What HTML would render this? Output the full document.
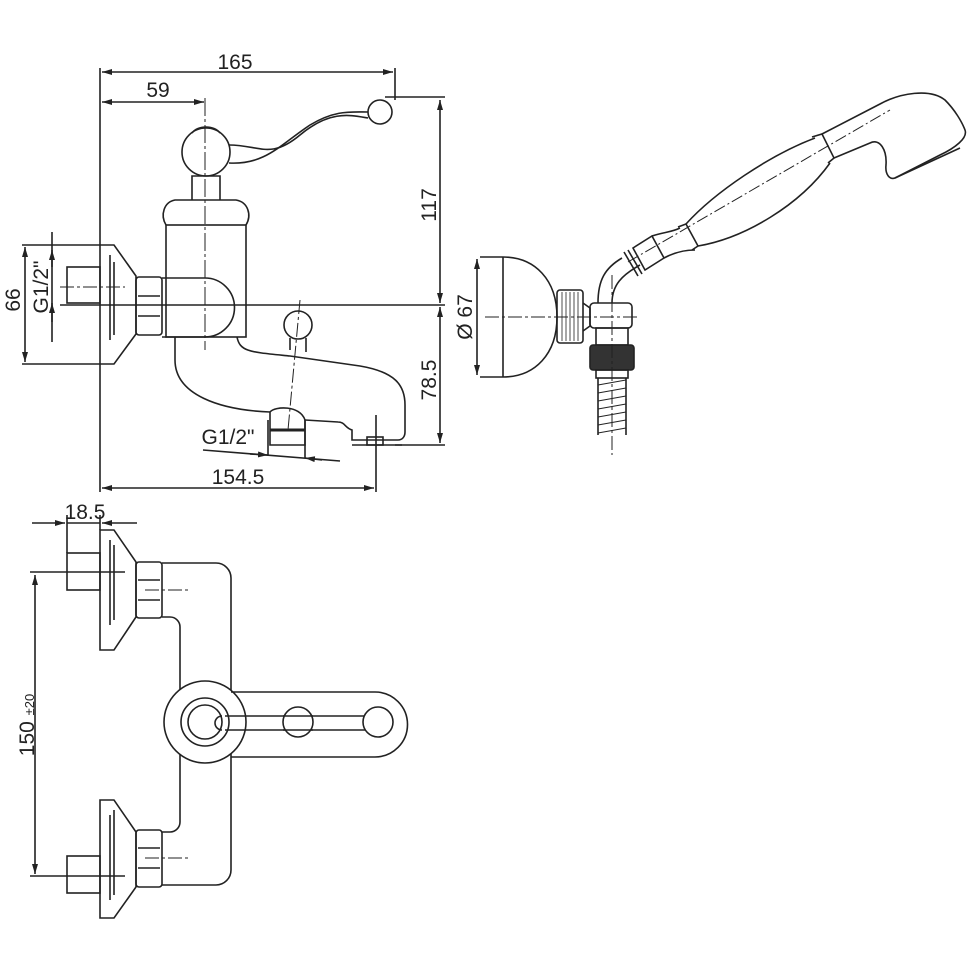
<!DOCTYPE html>
<html><head><meta charset="utf-8"><style>
html,body{margin:0;padding:0;background:#fff}
svg{display:block}
text{font-family:"Liberation Sans",sans-serif;fill:#222;font-size:21px}
</style></head><body>
<svg width="970" height="970" viewBox="0 0 970 970" xmlns="http://www.w3.org/2000/svg">
<defs>
<marker id="a" viewBox="0 0 10 6" refX="10" refY="3" markerWidth="10" markerHeight="6" orient="auto-start-reverse" markerUnits="userSpaceOnUse"><path d="M0,0L10,3L0,6z" fill="#222"/></marker>
</defs>
<g fill="none" stroke="#222" stroke-width="1.6">
<line x1="100" y1="68" x2="100" y2="492"/>
<line x1="395" y1="68" x2="395" y2="100"/>
<line x1="102" y1="72" x2="393" y2="72" marker-start="url(#a)" marker-end="url(#a)"/>
<line x1="102" y1="102" x2="204" y2="102" marker-start="url(#a)" marker-end="url(#a)"/>
<line x1="205" y1="98" x2="205" y2="350" stroke-dasharray="18,3,3,3" stroke-width="1"/>
<line x1="385" y1="97" x2="445" y2="97"/>
<line x1="440" y1="100" x2="440" y2="303" marker-start="url(#a)" marker-end="url(#a)"/>
<line x1="440" y1="307" x2="440" y2="443" marker-start="url(#a)" marker-end="url(#a)"/>
<line x1="60" y1="305" x2="445" y2="305"/>
<line x1="395" y1="445" x2="445" y2="445"/>
<line x1="22" y1="245" x2="100" y2="245"/>
<line x1="22" y1="364" x2="100" y2="364"/>
<line x1="25" y1="247" x2="25" y2="362" marker-start="url(#a)" marker-end="url(#a)"/>
<line x1="52" y1="232" x2="52" y2="342"/>
<line x1="52" y1="250" x2="52" y2="267" marker-start="url(#a)"/>
<line x1="52" y1="303" x2="52" y2="322" marker-start="url(#a)"/>
<line x1="102" y1="488" x2="374" y2="488" marker-start="url(#a)" marker-end="url(#a)"/>
<line x1="376" y1="415" x2="376" y2="492"/>
<line x1="203" y1="450" x2="340" y2="461"/>
<line x1="268" y1="420" x2="268" y2="455"/>
<line x1="305" y1="420" x2="305" y2="458"/>
<line x1="250" y1="454" x2="268" y2="455" marker-end="url(#a)"/>
<line x1="322" y1="460" x2="305" y2="458" marker-end="url(#a)"/>
<path d="M100,245 L114,245 L136,276 L136,334 L114,364 L100,364"/>
<line x1="110" y1="255" x2="110" y2="340"/><line x1="114" y1="262" x2="114" y2="335"/>
<rect x="67" y="267" width="33" height="36"/>
<line x1="60" y1="287" x2="125" y2="287" stroke-dasharray="14,3,3,3" stroke-width="1"/>
<rect x="136" y="277" width="26" height="58" rx="3"/>
<line x1="138" y1="296" x2="160" y2="296"/><line x1="138" y1="316" x2="160" y2="316"/>
<rect x="166" y="225" width="80" height="112"/>
<path d="M166,225 C160,215 164,202 175,200 L236,200 C248,202 252,215 246,225"/>
<path d="M162,278 L205,278 A29,29 0 0 1 205,337 L162,337"/>
<path d="M192,200 L192,176 L220,176 L220,200"/>
<ellipse cx="206" cy="152" rx="24" ry="24"/>
<path d="M192,133 C198,125 214,125 220,133"/>
<path d="M229,145 C260,145 270,160 300,135 C330,110 350,115 368,118"/>
<path d="M229,163 C265,165 280,145 310,125 C335,110 350,112 368,112"/>
<circle cx="380" cy="112" r="12"/>
<path d="M175,337 L175,360 C175,395 220,410 270,412"/>
<path d="M237,337 C240,352 250,352 290,356 L360,366 C395,372 405,385 405,405 L405,432 C405,437 402,440 398,440 L352,440 L352,430 C345,428 345,422 338,422 L305,420"/>
<path d="M270,412 C275,406 300,405 305,420 L305,445 L270,445 Z"/>
<line x1="270" y1="430" x2="305" y2="430" stroke-width="3"/>
<rect x="367" y="437" width="16" height="8"/>
<line x1="352" y1="445" x2="402" y2="445"/>
<circle cx="298" cy="325" r="14"/>
<path d="M290,338 L290,350 M306,338 L306,352"/>
<line x1="300" y1="300" x2="288" y2="430" stroke-dasharray="14,3,3,3" stroke-width="1"/>
<line x1="503" y1="257" x2="503" y2="377"/>
<path d="M480,257 L503,257 C535,257 557,280 557,317 C557,354 535,377 503,377 L480,377"/>
<line x1="477" y1="259" x2="477" y2="375" marker-start="url(#a)" marker-end="url(#a)"/>
<line x1="485" y1="317" x2="640" y2="317" stroke-dasharray="14,3,3,3" stroke-width="1"/>
<rect x="557" y="290" width="26" height="53" rx="3"/>
<g stroke-width="0.8"><path d="M562,292V341M566,292V341M570,292V341M574,292V341M578,292V341"/></g>
<path d="M583,303 L590,308 L590,326 L583,331"/>
<rect x="590" y="303" width="42" height="25" rx="4"/>
<path d="M598,303 C598,280 605,268 622,258 M612,303 C612,285 622,275 640,265"/>
<rect x="596" y="328" width="32" height="17"/>
<rect x="590" y="345" width="44" height="25" rx="3" fill="#333"/>
<rect x="596" y="370" width="32" height="8"/>
<path d="M598,378 L598,435 M626,378 L626,435"/>
<path d="M598,385 L626,380 M598,393 L626,388 M598,401 L626,396 M598,409 L626,404 M598,417 L626,412 M598,425 L626,420 M598,433 L626,428" stroke-width="1"/>
<line x1="612" y1="275" x2="612" y2="455" stroke-dasharray="14,3,3,3" stroke-width="1"/>
<path d="M624,252 L638,276 M628,250 L642,274"/>
<path d="M633,248 L652,236 L664,258 L645,270 Z"/>
<path d="M652,236 C665,232 672,232 680,228 M664,258 C675,252 685,250 695,250"/>
<path d="M678,227 L686,224 L698,246 L692,250"/>
<path d="M686,224 C715,192 770,155 815,138"/>
<path d="M698,246 C745,238 800,205 830,163"/>
<path d="M812,137 L822,134 L834,158 L828,163"/>
<path d="M822,134 L880,104 C900,93 930,88 945,100 C955,110 962,122 965,130 C968,138 955,148 940,155 L895,178 C890,180 885,175 886,165 C887,150 880,138 870,143 L834,158"/>
<path d="M895,178 L960,148"/>
<line x1="628" y1="262" x2="890" y2="110" stroke-dasharray="12,3,2,3" stroke-width="1"/>
<line x1="67" y1="515" x2="67" y2="553"/><line x1="100" y1="515" x2="100" y2="530"/>
<line x1="32" y1="523" x2="65" y2="523" marker-end="url(#a)"/>
<line x1="137" y1="523" x2="102" y2="523" marker-end="url(#a)"/>
<line x1="67" y1="523" x2="100" y2="523"/>
<path d="M100,530 L114,530 L136,562 L136,617 L114,650 L100,650 Z"/>
<line x1="110" y1="540" x2="110" y2="625"/><line x1="114" y1="545" x2="114" y2="620"/>
<rect x="67" y="553" width="33" height="37"/>
<line x1="30" y1="572" x2="125" y2="572"/>
<rect x="136" y="562" width="26" height="56" rx="3"/>
<line x1="138" y1="580" x2="160" y2="580"/><line x1="138" y1="600" x2="160" y2="600"/>
<line x1="145" y1="590" x2="188" y2="590" stroke-dasharray="14,3,3,3" stroke-width="1"/>
<path d="M100,800 L114,800 L136,832 L136,887 L114,918 L100,918 Z"/>
<line x1="110" y1="815" x2="110" y2="900"/><line x1="114" y1="810" x2="114" y2="895"/>
<rect x="67" y="856" width="33" height="37"/>
<line x1="30" y1="876" x2="125" y2="876"/>
<rect x="136" y="830" width="26" height="57" rx="3"/>
<line x1="138" y1="848" x2="160" y2="848"/><line x1="138" y1="868" x2="160" y2="868"/>
<line x1="145" y1="858" x2="188" y2="858" stroke-dasharray="14,3,3,3" stroke-width="1"/>
<path d="M162,563 L216,563 A15,15 0 0 1 231,578 L231,870 A15,15 0 0 1 216,885 L162,885"/>
<path d="M162,617 L170,617 A10,10 0 0 1 180,627 L180,822 A10,10 0 0 1 170,832 L162,832"/>
<circle cx="205" cy="722" r="41" fill="#fff"/>
<path d="M231,692 L375,692 A32.5,32.5 0 0 1 375,757 L231,757"/>
<circle cx="205" cy="722" r="24"/>
<circle cx="205" cy="722" r="17"/>
<path d="M225,716 L378,716 M225,730 L378,730 M222,716 A7,7 0 0 0 222,730"/>
<circle cx="298" cy="722" r="15" fill="#fff"/>
<path d="M283,716 L313,716 M283,730 L313,730"/>
<circle cx="378" cy="722" r="15" fill="#fff"/>
<line x1="35" y1="575" x2="35" y2="874" marker-start="url(#a)" marker-end="url(#a)"/>
</g>
<text x="235" y="69" text-anchor="middle">165</text>
<text x="158" y="97" text-anchor="middle">59</text>
<text x="238" y="484" text-anchor="middle">154.5</text>
<text x="85" y="519" text-anchor="middle">18.5</text>
<text x="228" y="444" text-anchor="middle" font-size="19">G1/2"</text>
<text transform="translate(436,205) rotate(-90)" text-anchor="middle">117</text>
<text transform="translate(436,380) rotate(-90)" text-anchor="middle">78.5</text>
<text transform="translate(20,300) rotate(-90)" text-anchor="middle">66</text>
<text transform="translate(48,287) rotate(-90)" text-anchor="middle" font-size="19">G1/2"</text>
<text transform="translate(472,317) rotate(-90)" text-anchor="middle">Ø 67</text>
<text transform="translate(34,725) rotate(-90)" text-anchor="middle">150 <tspan font-size="13">±20</tspan></text>
</svg>
</body></html>
